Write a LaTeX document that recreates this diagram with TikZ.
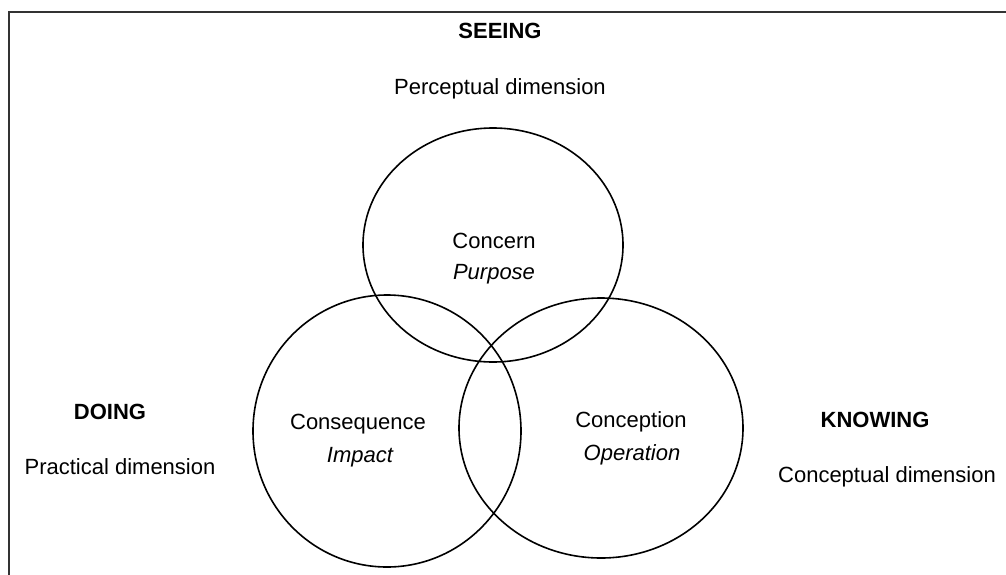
\documentclass[tikz,border=0pt]{standalone}
\usepackage{fontspec}
\setmainfont{Liberation Sans}
\begin{document}
\begin{tikzpicture}[x=1pt,y=-1pt,
  ring/.style={draw=black,line width=1.6pt},
  lbl/.style={anchor=base,inner sep=0pt,font=\fontsize{22}{26}\selectfont},
  head/.style={lbl,font=\fontsize{22}{26}\selectfont\bfseries},
  frame/.style={draw=black!80,line width=1.8pt}]
\useasboundingbox (0,0) rectangle (1006,574);
\coordinate (fbl) at (9,575);
\coordinate (ftl) at (9,12);
\coordinate (ftr) at (1007,12);
\draw[frame] (fbl) -- (ftl) -- (ftr);
\draw[ring] (493,245) ellipse [x radius=130, y radius=117];
\draw[ring] (387,431) ellipse [x radius=134, y radius=136];
\draw[ring] (601,428) ellipse [x radius=142, y radius=130];
\node[head] (seeing) at (500,38) {SEEING};
\node[lbl] (perc) at (500,94) {Perceptual dimension};
\node[lbl] (concern) at (494,248) {Concern};
\node[lbl] (purpose) at (494,279) {\itshape Purpose};
\node[head] (doing) at (110,419) {DOING};
\node[lbl] (pract) at (120,474) {Practical dimension};
\node[lbl] (conseq) at (358,429) {Consequence};
\node[lbl] (impact) at (360,462) {\itshape Impact};
\node[lbl] (concep) at (631,427) {Conception};
\node[lbl] (oper) at (632,460) {\itshape Operation};
\node[head] (knowing) at (875,427) {KNOWING};
\node[lbl] (concdim) at (887,482) {Conceptual dimension};
\end{tikzpicture}
\end{document}
